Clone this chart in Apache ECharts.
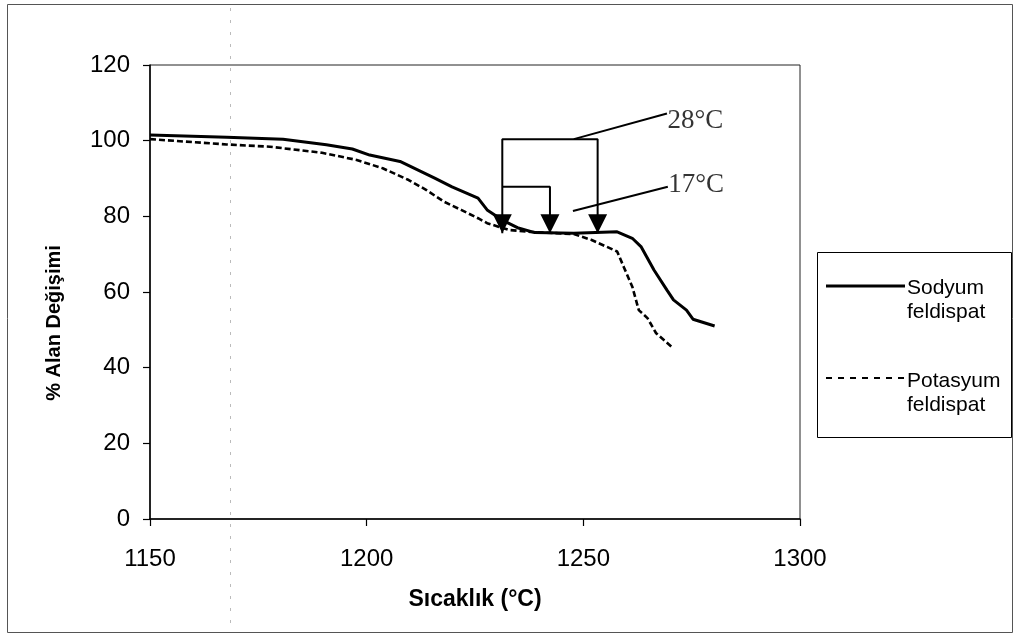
<!DOCTYPE html>
<html>
<head>
<meta charset="utf-8">
<title>Sıcaklık - % Alan Değişimi</title>
<script src="https://cdn.jsdelivr.net/npm/echarts@6/dist/echarts.min.js"></script>
<style>
  html, body { margin: 0; padding: 0; background: #fff; }
  #chart { width: 1017px; height: 636px; }
</style>
</head>
<body>
<div id="chart"></div>
<script>
// Sodyum feldispat: temperature (°C) and area change (%)
const sodyumT = [1150, 1167.7, 1180.7, 1190.7, 1196.7, 1200.7, 1207.7, 1215.7, 1219.7, 1225.7, 1227.8,
  1231.3, 1234.8, 1238.8, 1247.8, 1252.8, 1257.8, 1261.3, 1263.3, 1266.3, 1269.3, 1270.8, 1273.8, 1275.3, 1280.3];
const sodyumA = [101.5, 100.9, 100.4, 98.9, 97.8, 96.2, 94.5, 90.1, 87.8, 84.8, 81.7,
  79.0, 77.0, 75.7, 75.5, 75.7, 75.9, 74.2, 72.0, 65.8, 60.5, 57.9, 55.2, 52.8, 51.0];

// Potasyum feldispat
const potasyumT = [1150, 1167.7, 1177.7, 1189.7, 1197.7, 1203.7, 1209.7, 1213.7, 1217.8, 1221.8, 1225.7,
  1227.8, 1232.8, 1237.8, 1247.8, 1251.8, 1255.3, 1257.8, 1259.3, 1261.3, 1262.8, 1264.8, 1266.8, 1270.6];
const potasyumA = [100.4, 99.0, 98.4, 96.8, 94.9, 92.7, 89.6, 87.0, 83.9, 81.7, 79.5,
  78.2, 76.4, 75.9, 75.3, 73.8, 72.0, 70.7, 66.7, 61.4, 55.2, 53.1, 49.1, 45.3];

// Axis ticks
const xTicks = [1150, 1200, 1250, 1300];
const yTicks = [0, 20, 40, 60, 80, 100, 120];

// Bracket annotation (°C, %) and the two labelled spans
const bracketOuter = [[1231.3, 75.5], [1231.3, 100.4], [1253.3, 100.4], [1253.3, 75.5]];
const bracketInner = [[1231.3, 87.8], [1242.3, 87.8], [1242.3, 75.5]];
const arrowTips = [[1231.3, 75.5], [1242.3, 75.5], [1253.3, 75.5]];
const leader28 = [[1247.8, 100.4], [1269.3, 107.2]];
const leader17 = [[1247.6, 81.4], [1269.5, 87.8]];
const spanLabels = [[1269.4, 105.3, '28°C'], [1269.6, 88.3, '17°C']];

const names = ['Sodyum feldispat', 'Potasyum feldispat'];
const zip = (a, b) => a.map((v, i) => [v, b[i]]);

const chart = echarts.init(document.getElementById('chart'), null, { renderer: 'canvas' });

const plainLine = (data, width) => ({
  type: 'line', data, symbol: 'none', silent: true, z: 4,
  lineStyle: { color: '#000', width }
});

const sans = 'Liberation Sans, Arial, sans-serif';

chart.setOption({
  animation: false,
  backgroundColor: '#fff',
  textStyle: { fontFamily: sans, color: '#000' },
  grid: {
    left: 150, right: 217, top: 65, bottom: 117,
    show: true, borderColor: '#222', borderWidth: 1, backgroundColor: 'transparent'
  },
  xAxis: {
    type: 'value', min: xTicks[0], max: xTicks[xTicks.length - 1], interval: 50,
    name: 'Sıcaklık (°C)', nameLocation: 'middle', nameGap: 69,
    nameTextStyle: { fontSize: 23, fontWeight: 'bold', color: '#000' },
    axisLine: { lineStyle: { color: '#000', width: 1.5 } },
    axisTick: { show: true, length: 7, lineStyle: { color: '#000', width: 1.2 } },
    axisLabel: { fontSize: 24, color: '#000', margin: 28, formatter: v => String(v) },
    splitLine: { show: false }
  },
  yAxis: {
    type: 'value', min: yTicks[0], max: yTicks[yTicks.length - 1], interval: 20,
    name: '% Alan Değişimi', nameLocation: 'middle', nameGap: 86, nameRotate: 90,
    nameTextStyle: { fontSize: 20, fontWeight: 'bold', color: '#000', padding: [0, 62, 0, 0] },
    axisLine: { show: true, lineStyle: { color: '#000', width: 1.5 } },
    axisTick: { show: true, length: 7, lineStyle: { color: '#000', width: 1.2 } },
    axisLabel: { fontSize: 24, color: '#000', margin: 20, formatter: v => String(v) },
    splitLine: { show: false }
  },
  series: [
    {
      name: names[0], type: 'line', data: zip(sodyumT, sodyumA), symbol: 'none', z: 3,
      lineStyle: { color: '#000', width: 3 }
    },
    {
      name: names[1], type: 'line', data: zip(potasyumT, potasyumA), symbol: 'none', z: 3,
      lineStyle: { color: '#000', width: 2.6, type: [6, 3] }
    },
    plainLine(bracketOuter, 2),
    plainLine(bracketInner, 2),
    plainLine(leader28, 2),
    plainLine(leader17, 2),
    {
      type: 'scatter', data: arrowTips, silent: true, z: 5,
      symbol: 'path://M0,0 L20,0 L10,20 Z', symbolSize: [19, 19], symbolOffset: [0, -9.5],
      itemStyle: { color: '#000', opacity: 1 }
    },
    {
      type: 'scatter', data: spanLabels, silent: true, symbolSize: 0, z: 6,
      itemStyle: { color: '#000' },
      label: {
        show: true, position: 'right', distance: 0,
        formatter: p => p.value[2],
        fontFamily: 'Liberation Serif, Times New Roman, serif', fontSize: 27, color: '#000'
      }
    }
  ],
  graphic: [
    // outer frame
    { type: 'rect', shape: { x: 7.5, y: 4.5, width: 1005, height: 628 },
      style: { fill: 'none', stroke: '#555', lineWidth: 1 }, silent: true, z: -1 },
    // faint vertical scan line
    { type: 'line', shape: { x1: 230.5, y1: 8, x2: 230.5, y2: 630 },
      style: { stroke: '#bbb', lineWidth: 1, lineDash: [3, 9] }, silent: true, z: -1 },
    // legend box
    { type: 'rect', shape: { x: 817.5, y: 252.5, width: 194, height: 185 },
      style: { fill: '#fff', stroke: '#000', lineWidth: 1 }, silent: true },
    { type: 'line', shape: { x1: 826, y1: 286, x2: 905, y2: 286 },
      style: { stroke: '#000', lineWidth: 3 }, silent: true },
    { type: 'text', x: 907, y: 276, silent: true,
      style: { text: 'Sodyum\nfeldispat', fontSize: 21, lineHeight: 24, fill: '#000',
        fontFamily: sans, verticalAlign: 'top', align: 'left' } },
    { type: 'line', shape: { x1: 826, y1: 378, x2: 905, y2: 378 },
      style: { stroke: '#000', lineWidth: 2, lineDash: [6, 6] }, silent: true },
    { type: 'text', x: 907, y: 369, silent: true,
      style: { text: 'Potasyum\nfeldispat', fontSize: 21, lineHeight: 24, fill: '#000',
        fontFamily: sans, verticalAlign: 'top', align: 'left' } }
  ]
});
</script>
</body>
</html>
